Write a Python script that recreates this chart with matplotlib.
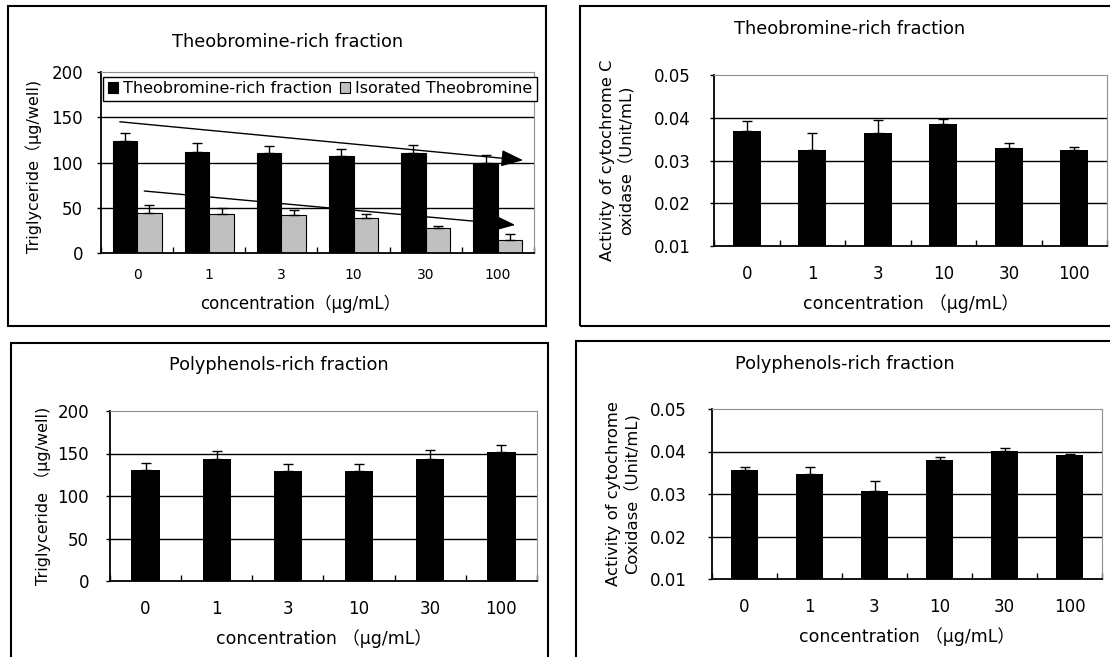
import numpy as np
import matplotlib
matplotlib.use("Agg")
import matplotlib.pyplot as plt
from matplotlib.patches import Rectangle

plt.rcParams['font.family'] = ['DejaVu Sans', 'Noto Sans CJK JP']

W, H = 1110, 657

conc = ['0', '1', '3', '10', '30', '100']

# top-left: triglyceride, theobromine-rich fraction vs isolated theobromine
tg_theo = [123.5, 112, 110, 107, 111, 100]
tg_theo_err = [9.5, 9, 8.5, 8, 8, 8]
tg_iso = [44.5, 43, 42, 39, 28, 14.5]
tg_iso_err = [8.5, 7, 5, 4.5, 1.5, 7]
# trend arrows (start x, start y, end x, end y) in data units
arrow_theo = [-0.24, 145, 5.35, 102.5]
arrow_iso = [0.10, 68.5, 5.24, 31]

# top-right: cytochrome C oxidase, theobromine-rich fraction
cco_theo = [0.0368, 0.0324, 0.0365, 0.0385, 0.0330, 0.0324]
cco_theo_err = [0.0024, 0.0040, 0.0030, 0.0013, 0.0011, 0.0008]

# bottom-left: triglyceride, polyphenols-rich fraction
tg_poly = [130.5, 144, 129, 129, 144, 151.5]
tg_poly_err = [8.5, 8.5, 8.5, 8.5, 10, 8.5]

# bottom-right: cytochrome C oxidase, polyphenols-rich fraction
cco_poly = [0.0356, 0.0346, 0.0308, 0.0380, 0.0401, 0.0391]
cco_poly_err = [0.0008, 0.0018, 0.0023, 0.0008, 0.0008, 0.0003]


def fx(px):
    return px / W


def fy(py):
    return 1 - py / H


def make_axes(l, r, t, b):
    return fig.add_axes([fx(l), fy(b), fx(r - l), (b - t) / H])


def style(ax, ylim, yticks, fmt, ytick_size, xtick_size, ypad, xpad):
    n = len(conc)
    ax.set_xlim(-0.5, n - 0.5)
    ax.set_ylim(*ylim)
    ax.set_yticks(yticks)
    ax.set_yticklabels([fmt.format(v) for v in yticks], fontsize=ytick_size)
    ax.set_xticks(np.arange(n))
    ax.set_xticklabels(conc, fontsize=xtick_size)
    ax.set_xticks(np.arange(n + 1) - 0.5, minor=True)
    ax.tick_params(axis='x', which='major', length=0, pad=xpad)
    ax.tick_params(axis='x', which='minor', direction='in', length=4, width=1)
    ax.tick_params(axis='y', length=3, width=1, pad=ypad)
    for v in yticks[1:-1]:
        ax.axhline(v, color='black', lw=1, zorder=0)
    ax.spines['top'].set_color('#909090')
    ax.spines['right'].set_color('#909090')
    ax.spines['left'].set_linewidth(1.3)
    ax.spines['bottom'].set_linewidth(1.3)


def single_bars(ax, vals, errs, width):
    x = np.arange(len(conc))
    ax.bar(x, vals, width, color='black', zorder=2)
    ax.errorbar(x, vals, yerr=[np.zeros(len(vals)), errs], fmt='none',
                ecolor='black', elinewidth=1, capsize=3.5, capthick=1, zorder=3)


fig = plt.figure(figsize=(W / 100, H / 100), dpi=100)

# panel frames
for (l, t, r, b) in [(8, 6, 546, 326), (580, 6, 1116, 326),
                     (11, 343, 548, 670), (576, 341, 1116, 670)]:
    fig.patches.append(Rectangle((fx(l), fy(b)), fx(r - l), (b - t) / H,
                                 transform=fig.transFigure, fill=False,
                                 edgecolor='black', lw=1.5))

# ---- top-left
ax1 = make_axes(101, 534, 72, 253)
x = np.arange(len(conc))
ax1.bar(x - 0.17, tg_theo, 0.34, color='black', edgecolor='black', lw=0.8,
        zorder=2, label='Theobromine-rich fraction')
ax1.bar(x + 0.17, tg_iso, 0.34, color='#c0c0c0', edgecolor='black', lw=0.8,
        zorder=2, label='Isorated Theobromine')
ax1.errorbar(x - 0.17, tg_theo, yerr=[np.zeros(6), tg_theo_err], fmt='none',
             ecolor='black', elinewidth=1, capsize=3.5, zorder=3)
ax1.errorbar(x + 0.17, tg_iso, yerr=[np.zeros(6), tg_iso_err], fmt='none',
             ecolor='black', elinewidth=1, capsize=3.5, zorder=3)
style(ax1, (0, 200), [0, 50, 100, 150, 200], '{:g}', 12, 10, 10, 11)
for a in (arrow_theo, arrow_iso):
    ax1.annotate('', xy=(a[2], a[3]), xytext=(a[0], a[1]),
                 arrowprops=dict(arrowstyle='-|>,head_length=0.85,head_width=0.32',
                                 color='black', lw=1, mutation_scale=16,
                                 shrinkA=0, shrinkB=0),
                 zorder=4)
leg = ax1.legend(loc='upper left', bbox_to_anchor=(0.004, 0.975),
                 ncol=2, fontsize=11.5, frameon=True,
                 fancybox=False, edgecolor='black', framealpha=1,
                 handlelength=0.65, handleheight=0.65, handletextpad=0.3,
                 columnspacing=0.5, borderpad=0.3, borderaxespad=0)
leg.get_frame().set_linewidth(1)
ax1.set_ylabel('Triglyceride（μg/well)', fontsize=11.5)
ax1.yaxis.set_label_coords(-(101 - 42) / 433, 0.48)
ax1.set_xlabel('concentration（μg/mL）', fontsize=12)
ax1.xaxis.set_label_coords(0.46, -(295 - 253) / 181)
fig.text(fx(288), fy(42), 'Theobromine-rich fraction', fontsize=12.8,
         ha='center', va='center')

# ---- top-right
ax2 = make_axes(714, 1107, 75, 246)
single_bars(ax2, cco_theo, cco_theo_err, 0.42)
style(ax2, (0.01, 0.05), [0.01, 0.02, 0.03, 0.04, 0.05], '{:.2f}', 12, 12, 14, 14)
ax2.set_ylabel('Activity of cytochrome C\noxidase（Unit/mL)', fontsize=11.8,
               linespacing=1.15)
ax2.yaxis.set_label_coords(-(714 - 634) / 393, 0.5)
ax2.set_xlabel('concentration （μg/mL）', fontsize=12.5)
ax2.xaxis.set_label_coords(0.5, -(294 - 246) / 171)
fig.text(fx(850), fy(29), 'Theobromine-rich fraction', fontsize=12.8,
         ha='center', va='center')

# ---- bottom-left
ax3 = make_axes(110, 537, 411, 581)
single_bars(ax3, tg_poly, tg_poly_err, 0.40)
style(ax3, (0, 200), [0, 50, 100, 150, 200], '{:g}', 12, 12, 12, 14)
ax3.set_ylabel('Triglyceride （μg/well)', fontsize=11.5)
ax3.yaxis.set_label_coords(-(110 - 51) / 427, 0.5)
ax3.set_xlabel('concentration （μg/mL）', fontsize=12.5)
ax3.xaxis.set_label_coords(0.5, -(629 - 581) / 170)
fig.text(fx(279), fy(365), 'Polyphenols-rich fraction', fontsize=12.8,
         ha='center', va='center')

# ---- bottom-right
ax4 = make_axes(712, 1102, 409, 579)
single_bars(ax4, cco_poly, cco_poly_err, 0.42)
style(ax4, (0.01, 0.05), [0.01, 0.02, 0.03, 0.04, 0.05], '{:.2f}', 12, 12, 15, 14)
ax4.set_ylabel('Activity of cytochrome\nCoxidase（Unit/mL)', fontsize=11.8,
               linespacing=1.15)
ax4.yaxis.set_label_coords(-(712 - 640) / 390, 0.5)
ax4.set_xlabel('concentration （μg/mL）', fontsize=12.5)
ax4.xaxis.set_label_coords(0.5, -(627 - 579) / 170)
fig.text(fx(845), fy(364), 'Polyphenols-rich fraction', fontsize=12.8,
         ha='center', va='center')

fig.savefig('out.png', dpi=100)
